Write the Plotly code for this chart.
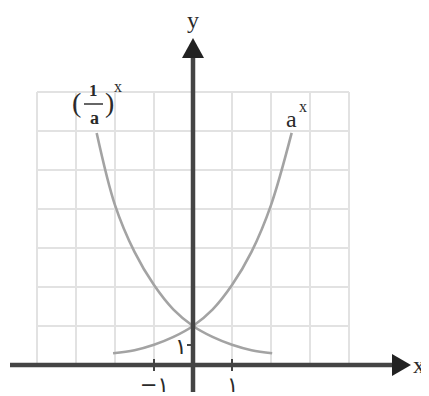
import plotly.graph_objects as go

# values
ax_x = [-2.05, -1.5, -1.0, -0.5, 0.0, 0.5, 1.0, 1.5, 2.0, 2.53]
ax_y = [0.30, 0.38, 0.52, 0.72, 1.0, 1.42, 2.05, 2.9, 4.1, 5.95]
inv_x = [-2.47, -2.0, -1.5, -1.0, -0.5, 0.0, 0.5, 1.0, 1.5, 2.03]
inv_y = [5.95, 4.1, 2.9, 2.05, 1.42, 1.0, 0.72, 0.52, 0.38, 0.30]
grid_x = [-4, -3, -2, -1, 0, 1, 2, 3, 4]
grid_y = [0, 1, 2, 3, 4, 5, 6, 7]
x_ticks = [-1, 1]
x_tick_text = ["\u2212\u06f1", "\u06f1"]

W, H = 429, 396
PAD = 8  # page body margin
OX, OY, U = 193, 365, 39  # origin pixel and pixels per unit


def px(p):
    return (p - OX) / U


def py(p):
    return (OY - p) / U


GRID = "#e2e2e2"
AXIS = "#444444"
CURVE = "#a3a3a3"
FONT = "Liberation Serif"

fig = go.Figure()
fig.add_trace(go.Scatter(x=ax_x, y=ax_y, mode="lines", line_shape="spline",
                         line=dict(color=CURVE, width=2.6), hoverinfo="skip"))
fig.add_trace(go.Scatter(x=inv_x, y=inv_y, mode="lines", line_shape="spline",
                         line=dict(color=CURVE, width=2.6), hoverinfo="skip"))

shapes = []
for gx in grid_x:
    shapes.append(dict(type="line", x0=gx, x1=gx, y0=grid_y[0], y1=grid_y[-1],
                       line=dict(color=GRID, width=2), layer="below"))
for gy in grid_y:
    shapes.append(dict(type="line", x0=grid_x[0], x1=grid_x[-1], y0=gy, y1=gy,
                       line=dict(color=GRID, width=2), layer="below"))

# axes
shapes.append(dict(type="line", x0=px(10), x1=px(395), y0=0, y1=0,
                   line=dict(color=AXIS, width=4.5)))
shapes.append(dict(type="line", x0=0, x1=0, y0=py(392), y1=py(55),
                   line=dict(color=AXIS, width=4.5)))
shapes.append(dict(type="path", fillcolor="#222", line=dict(width=0),
                   path=f"M {px(392)} {py(354)} L {px(411)} {py(365)} L {px(392)} {py(376)} Z"))
shapes.append(dict(type="path", fillcolor="#222", line=dict(width=0),
                   path=f"M {px(182)} {py(58)} L {px(193)} {py(38)} L {px(204)} {py(58)} Z"))
for t in x_ticks:
    shapes.append(dict(type="line", x0=t, x1=t, y0=py(359), y1=py(371),
                       line=dict(color=AXIS, width=2)))
shapes.append(dict(type="line", x0=px(187), x1=0, y0=py(345), y1=py(345),
                   line=dict(color=AXIS, width=2)))
# fraction bar of 1/a
shapes.append(dict(type="line", x0=px(84), x1=px(103), y0=py(104), y1=py(104),
                   line=dict(color="#333", width=1.5)))
# faint box edge at top left
shapes.append(dict(type="rect", x0=px(-10), x1=px(86), y0=py(-30), y1=py(2),
                   line=dict(color="#e0e0e0", width=2)))

ann = []


def label(text, xp, yp, size, color="#2a2a2a", family=FONT):
    ann.append(dict(x=px(xp), y=py(yp), text=text, showarrow=False,
                    font=dict(family=family, size=size, color=color)))


label("y", 193, 20, 24)
label("x", 419, 365, 24)
label("a", 291, 119, 24)
label("x", 303, 106, 16)
label("(", 76, 102, 28)
label(")", 109, 102, 28)
label("<b>1</b>", 93, 90, 17)
label("<b>a</b>", 94, 118, 18)
label("x", 118, 86, 16)
for t, s in zip(x_ticks, x_tick_text):
    ann.append(dict(x=t, y=py(385), text=s, showarrow=False,
                    font=dict(family="DejaVu Sans", size=21, color="#2a2a2a")))
label("\u06f1", 181, 346, 22, family="DejaVu Sans")

fig.update_layout(
    width=W - PAD, height=H - PAD,
    margin=dict(l=0, r=0, t=0, b=0),
    paper_bgcolor="white", plot_bgcolor="white",
    showlegend=False,
    xaxis=dict(range=[px(PAD), px(W)], visible=False, fixedrange=True),
    yaxis=dict(range=[py(H), py(PAD)], visible=False, fixedrange=True),
    shapes=shapes, annotations=ann,
)

fig.write_html("out.html")
